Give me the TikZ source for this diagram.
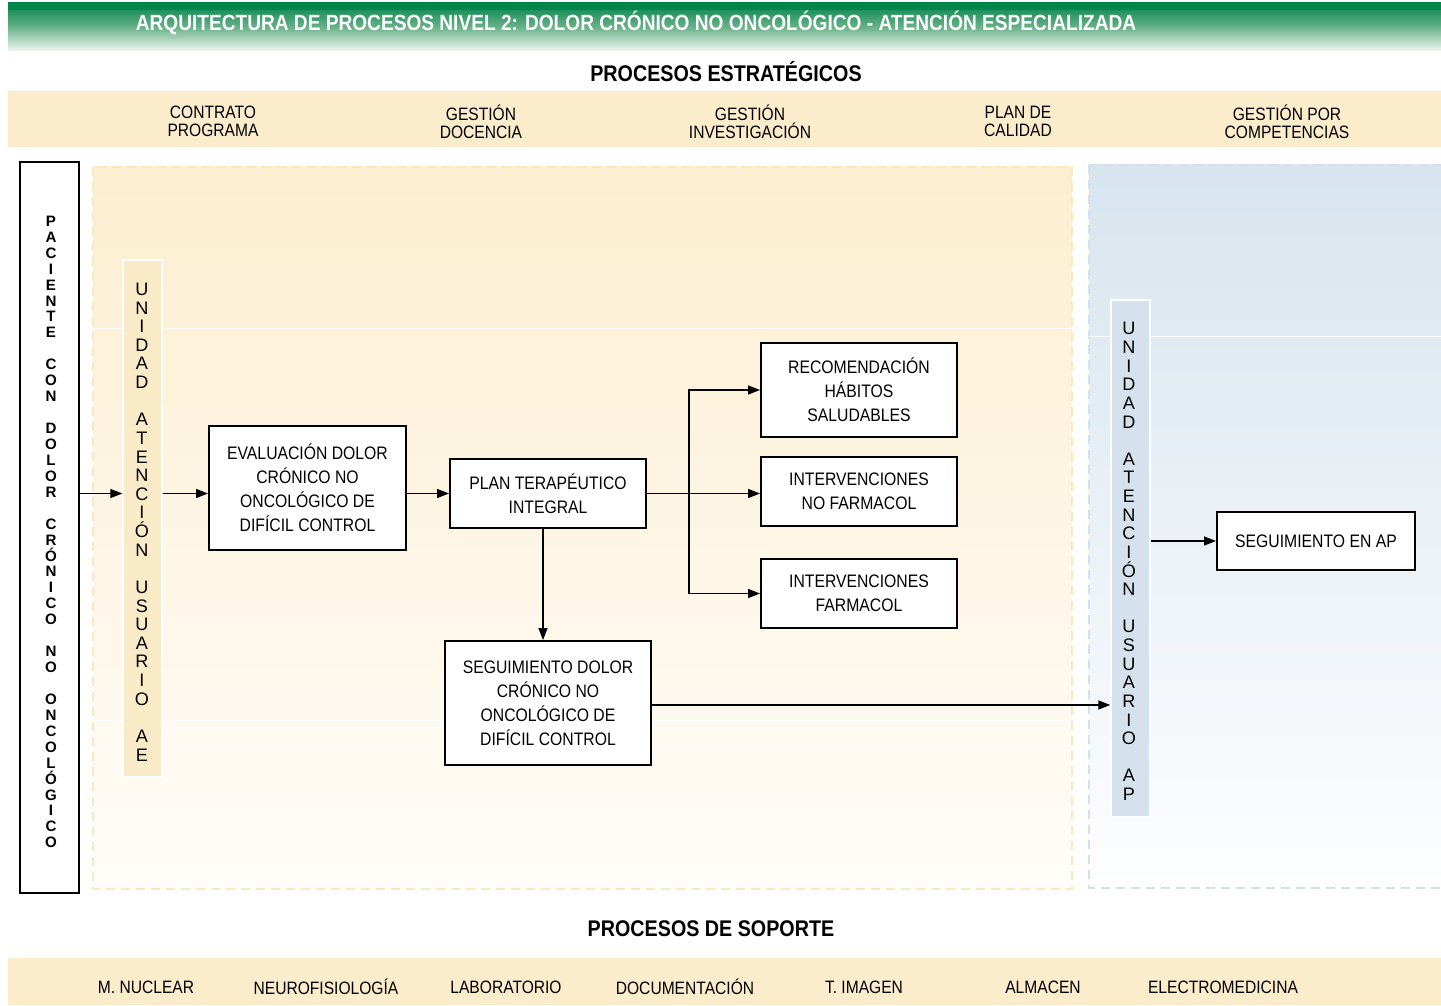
\documentclass[tikz,border=0pt]{standalone}
\usepackage{fontspec}
\setmainfont{Liberation Sans}[FakeStretch=0.87]
\newfontfamily\vfont{Liberation Sans}
\usetikzlibrary{arrows.meta,calc}
\definecolor{cream}{HTML}{FBEDCB}
\definecolor{ylwtop}{HTML}{FCEED0}
\definecolor{ylwbot}{HTML}{FFFDF9}
\definecolor{ylwdash}{HTML}{FBE8BE}
\definecolor{blutop}{HTML}{D8E4EE}
\definecolor{blubot}{HTML}{FDFEFF}
\definecolor{bludash}{HTML}{D3DFEA}
\definecolor{aefill}{HTML}{FAEBC8}
\definecolor{apfill}{HTML}{D5E1EC}
\definecolor{gdark}{HTML}{00854A}
\definecolor{gmid}{HTML}{68B189}
\definecolor{glight}{HTML}{F2F7F3}
\begin{document}
\begin{tikzpicture}[x=0.02cm,y=-0.02cm,
  box/.style={draw=black, line width=1.1pt, fill=white, align=center, inner sep=0pt,
    font=\fontsize{10.3}{13.6}\selectfont},
  arr/.style={line width=0.75pt, -{Triangle[length=0.24cm,width=0.18cm]}},
  strip/.style={draw=white, line width=0.8pt, inner sep=0pt, minimum width=0.78cm, minimum height=10.34cm},
  vtext/.style={align=center, inner sep=0pt, font=\vfont\fontsize{10.3}{10.6}\selectfont},
  ptext/.style={align=center, inner sep=0pt, font=\vfont\bfseries\fontsize{8.6}{9.07}\selectfont},
  item/.style={align=center, inner sep=0pt, font=\fontsize{10.2}{10.2}\selectfont},
  head/.style={inner sep=0pt, font=\bfseries\fontsize{12.9}{14}\selectfont},
  region/.style={line width=1.1pt, dash pattern=on 0.18cm off 0.12cm}]
\useasboundingbox (0,0) rectangle (1441,1006);
\fill[white] (0,0) rectangle (1441,1006);

% title band
\shade[top color=gdark, bottom color=glight, middle color=gmid] (8,3) rectangle (1441,51);
\fill[gdark] (8,3) rectangle (1441,10);
\node (title) at (636,23) [inner sep=0pt, text=white, font=\bfseries\fontsize{12.5}{13}\selectfont]
  {ARQUITECTURA DE PROCESOS NIVEL 2: DOLOR CRÓNICO NO ONCOLÓGICO - ATENCIÓN ESPECIALIZADA};

% strategic processes
\node (hstr) at (726,72) [head] {PROCESOS ESTRATÉGICOS};
\fill[cream] (8,91) rectangle (1441,147);
\node (s1) at (213,121.5) [item] {CONTRATO\\PROGRAMA};
\node (s2) at (481,121.5) [item] {GESTIÓN\\DOCENCIA};
\node (s3) at (750,121.5) [item] {GESTIÓN\\INVESTIGACIÓN};
\node (s4) at (1018,121.5) [item] {PLAN DE\\CALIDAD};
\node (s5) at (1287,121.5) [item] {GESTIÓN POR\\COMPETENCIAS};

% regions
\shade[top color=ylwtop, bottom color=ylwbot] (93,167) rectangle (1072,889);
\draw[region, ylwdash] (93,167) rectangle (1072,889);
\shade[top color=blutop, bottom color=blubot] (1089,165) rectangle (1441,888);
\draw[region, bludash] (1089,165) -- (1441,165) (1089,165) -- (1089,888) -- (1441,888);
\draw[white, line width=0.5pt] (93,328) -- (1072,328) (93,720) -- (1072,720)
  (1089,336) -- (1441,336) (1089,737) -- (1441,737);

% patient column
\node (pac) at (49.5,527.5) [draw=black, line width=1.1pt, fill=white, minimum width=1.18cm, minimum height=14.62cm, inner sep=0pt] {};
\node (pact) at (51,532) [ptext]
  {P\\A\\C\\I\\E\\N\\T\\E\\~\\C\\O\\N\\~\\D\\O\\L\\O\\R\\~\\C\\R\\Ó\\N\\I\\C\\O\\~\\N\\O\\~\\O\\N\\C\\O\\L\\Ó\\G\\I\\C\\O};

% user units
\node (ae) at (142.5,518.5) [strip, fill=aefill] {};
\node (aet) at (142,522) [vtext]
  {U\\N\\I\\D\\A\\D\\~\\A\\T\\E\\N\\C\\I\\Ó\\N\\~\\U\\S\\U\\A\\R\\I\\O\\~\\A\\E};
\node (ap) at (1130.5,558.5) [strip, fill=apfill] {};
\node (apt) at (1129,561.5) [vtext]
  {U\\N\\I\\D\\A\\D\\~\\A\\T\\E\\N\\C\\I\\Ó\\N\\~\\U\\S\\U\\A\\R\\I\\O\\~\\A\\P};

% process boxes
\node (eval) at (307.5,488) [box, minimum width=3.94cm, minimum height=2.48cm]
  {EVALUACIÓN DOLOR\\CRÓNICO NO\\ONCOLÓGICO DE\\DIFÍCIL CONTROL};
\node (plan) at (548,493.5) [box, minimum width=3.92cm, minimum height=1.38cm]
  {PLAN TERAPÉUTICO\\INTEGRAL};
\node (recom) at (859,390) [box, minimum width=3.92cm, minimum height=1.88cm]
  {RECOMENDACIÓN\\HÁBITOS\\SALUDABLES};
\node (intnf) at (859,491.5) [box, minimum width=3.92cm, minimum height=1.38cm]
  {INTERVENCIONES\\NO FARMACOL};
\node (intf) at (859,593.5) [box, minimum width=3.92cm, minimum height=1.38cm]
  {INTERVENCIONES\\FARMACOL};
\node (segdol) at (548,703) [box, minimum width=4.12cm, minimum height=2.48cm]
  {SEGUIMIENTO DOLOR\\CRÓNICO NO\\ONCOLÓGICO DE\\DIFÍCIL CONTROL};
\node (segap) at (1316,541) [box, minimum width=3.96cm, minimum height=1.16cm]
  {SEGUIMIENTO EN AP};

% connectors
\draw[arr] (pac.east |- plan) -- (ae.west |- plan);
\draw[arr] (ae.east |- plan) -- (eval.west |- plan);
\draw[arr] (eval.east |- plan) -- (plan.west);
\draw[arr] (plan.east) -- (intnf.west |- plan);
\coordinate (br) at (689,493.5);
\draw[arr] (br) |- (recom.west);
\draw[arr] (br) |- (intf.west);
\draw[arr] ([xshift=-0.1cm]plan.south) -- ([xshift=-0.1cm]plan.south |- segdol.north);
\draw[arr] ([yshift=-0.04cm]segdol.east) -- ([yshift=-0.04cm]ap.west |- segdol.east);
\draw[arr] (ap.east |- segap) -- (segap.west);

% support processes
\node (hsup) at (711,929) [head] {PROCESOS DE SOPORTE};
\fill[cream] (8,958) rectangle (1441,1005);
\node (p1) at (146,987) [item] {M. NUCLEAR};
\node (p2) at (326,987) [item] {NEUROFISIOLOGÍA};
\node (p3) at (506,987) [item] {LABORATORIO};
\node (p4) at (685,987) [item] {DOCUMENTACIÓN};
\node (p5) at (864,987) [item] {T. IMAGEN};
\node (p6) at (1043,987) [item] {ALMACEN};
\node (p7) at (1223,987) [item] {ELECTROMEDICINA};
\end{tikzpicture}
\end{document}
